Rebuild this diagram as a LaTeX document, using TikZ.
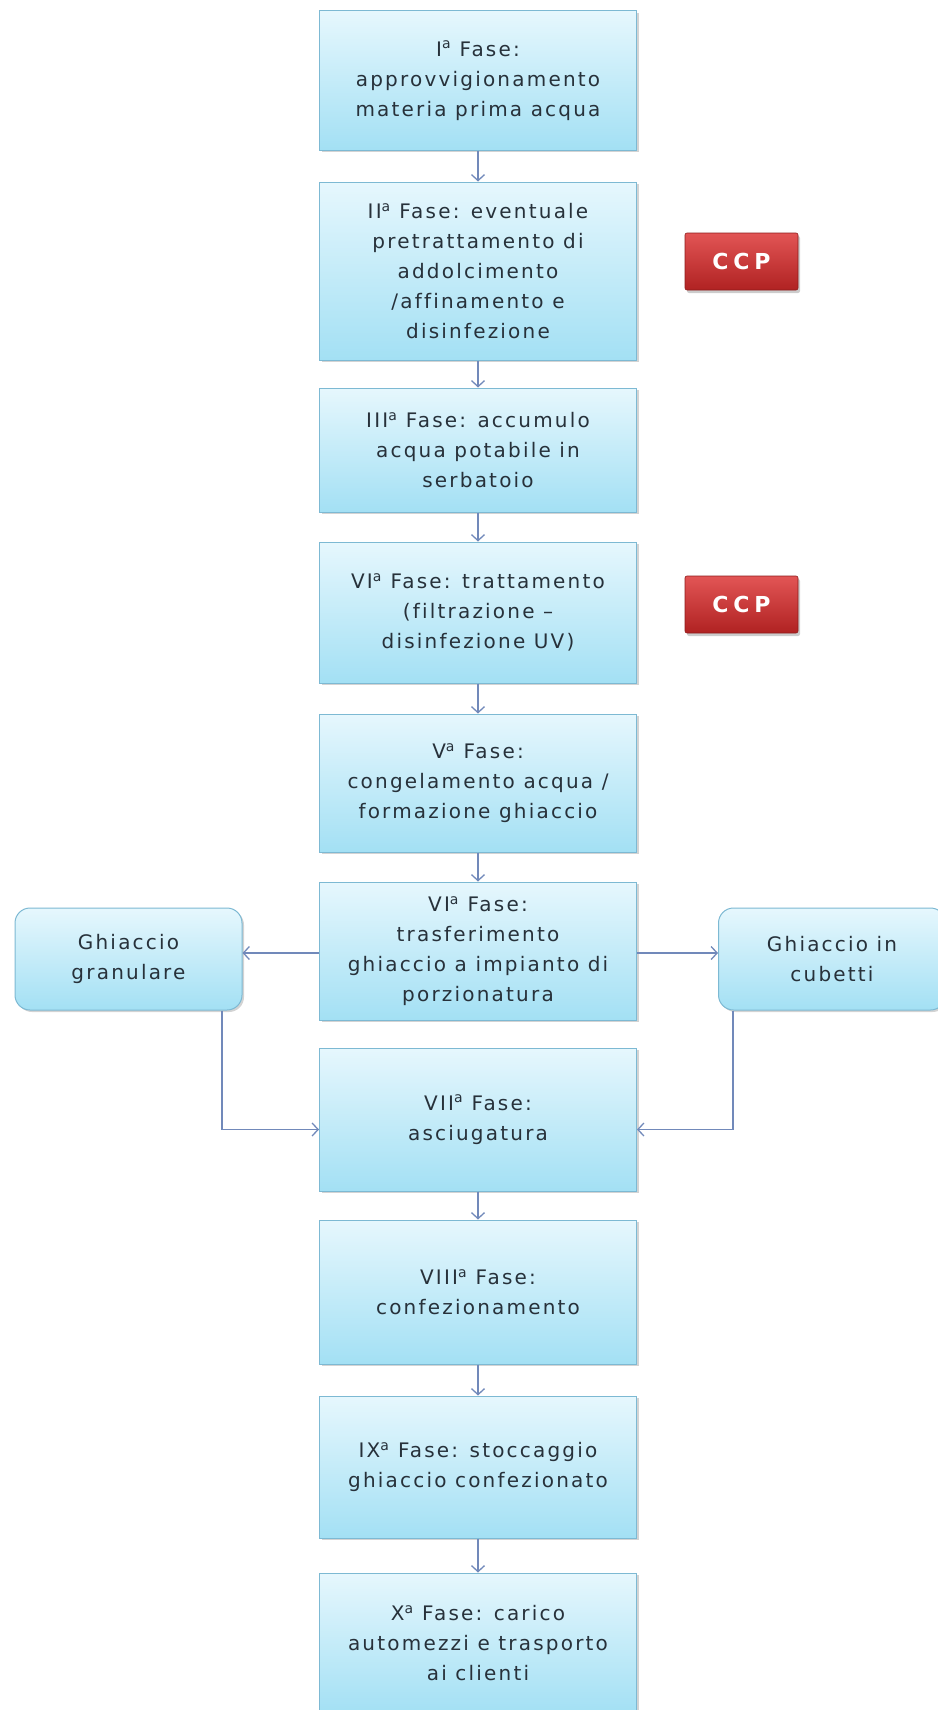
\documentclass[tikz,border=0pt]{standalone}
\usepackage{fontspec}
\usetikzlibrary{arrows.meta,shadows}

\newfontfamily\fasefont{DejaVu Sans}[LetterSpace=11, Ligatures={NoCommon}]
\newfontfamily\ccpfont{DejaVu Sans}[LetterSpace=22]
\definecolor{boxtop}{HTML}{E6F7FD}
\definecolor{boxbot}{HTML}{A3E0F4}
\definecolor{boxline}{HTML}{7DB9D3}
\definecolor{testo}{HTML}{27313A}
\definecolor{freccia}{HTML}{7189BA}
\definecolor{ccptop}{HTML}{E25555}
\definecolor{ccpbot}{HTML}{B02222}

\tikzset{
  fase/.style={draw=boxline, line width=1pt, top color=boxtop, bottom color=boxbot,
    drop shadow={shadow xshift=2pt, shadow yshift=-2pt, opacity=.35},
    minimum width=317pt, align=center, text=testo,
    font=\fasefont\fontsize{20pt}{30pt}\selectfont},
  ghiaccio/.style={fase, rounded corners=15pt, minimum width=227pt, minimum height=102pt},
  ccp/.style={draw=ccpbot!80!black, line width=.6pt, top color=ccptop, bottom color=ccpbot,
    rounded corners=2pt, minimum width=113pt, minimum height=57pt, text=white,
    drop shadow={shadow xshift=2pt, shadow yshift=-3pt, opacity=.4},
    font=\ccpfont\bfseries\fontsize{22pt}{24pt}\selectfont},
  freccia/.style={draw=freccia, line width=1.3pt, -{Straight Barb[length=6pt,width=13pt]}}
}

\begin{document}
\begin{tikzpicture}[x=1pt, y=-1pt]

  % Bounding box of the scheme
  \useasboundingbox (0,0) rectangle (937,1710);

  %%%%%%%%%%%%%%%%%%%%%%%%%%%%%%%%% Fasi %%%%%%%%%%%%%%%%%%%%%%%%%%%%%%%%%%%%
  \node[fase, minimum height=139pt] (f1) at (478,80.5)
    {I\textsuperscript{a} Fase:\\approvvigionamento\\materia prima acqua};
  \node[fase, minimum height=178pt] (f2) at (478,271)
    {II\textsuperscript{a} Fase: eventuale\\pretrattamento di\\addolcimento\\/affinamento e\\disinfezione};
  \node[fase, minimum height=124pt] (f3) at (478,450)
    {III\textsuperscript{a} Fase: accumulo\\acqua potabile in\\serbatoio};
  \node[fase, minimum height=141pt] (f4) at (478,612.5)
    {VI\textsuperscript{a} Fase: trattamento\\(filtrazione \textendash\\disinfezione UV)};
  \node[fase, minimum height=138pt] (f5) at (478,783)
    {V\textsuperscript{a} Fase:\\congelamento acqua /\\formazione ghiaccio};
  \node[fase, minimum height=138pt] (f6) at (478,951)
    {VI\textsuperscript{a} Fase:\\trasferimento\\ghiaccio a impianto di\\porzionatura};
  \node[fase, minimum height=143pt] (f7) at (478,1119.5)
    {VII\textsuperscript{a} Fase:\\asciugatura};
  \node[fase, minimum height=144pt] (f8) at (478,1292)
    {VIII\textsuperscript{a} Fase:\\confezionamento};
  \node[fase, minimum height=142pt] (f9) at (478,1467)
    {IX\textsuperscript{a} Fase: stoccaggio\\ghiaccio confezionato};
  \node[fase, minimum height=140pt] (f10) at (478,1643)
    {X\textsuperscript{a} Fase: carico\\automezzi e trasporto\\ai clienti};

  % Tipi di ghiaccio
  \node[ghiaccio] (gran) at (128.5,959) {Ghiaccio\\granulare};
  \node[ghiaccio] (cub) at (832,959) {Ghiaccio in\\cubetti};

  % Punti critici
  \node[ccp] (ccp1) at (741.5,261.5) {CCP};
  \node[ccp] (ccp2) at (741.5,604.5) {CCP};

  %%%%%%%%%%%%%%%%%%%%%%%%%%%%%%%%% Frecce %%%%%%%%%%%%%%%%%%%%%%%%%%%%%%%%%%%%
  \foreach \i [evaluate=\i as \j using int(\i+1)] in {1,2,3,4,5,7,8,9} {
    \draw[freccia] (f\i) -- (f\j);
  }

  \draw[freccia] ([yshift=-2pt]f6.west) -- ([yshift=-2pt]f6.west -| gran.east);
  \draw[freccia] ([yshift=-2pt]f6.east) -- ([yshift=-2pt]f6.east -| cub.west);
  \draw[freccia] (gran.south -| 222,0) |- ([yshift=-10pt]f7.west);
  \draw[freccia] (cub.south -| 733,0) |- ([yshift=-10pt]f7.east);

\end{tikzpicture}
\end{document}
